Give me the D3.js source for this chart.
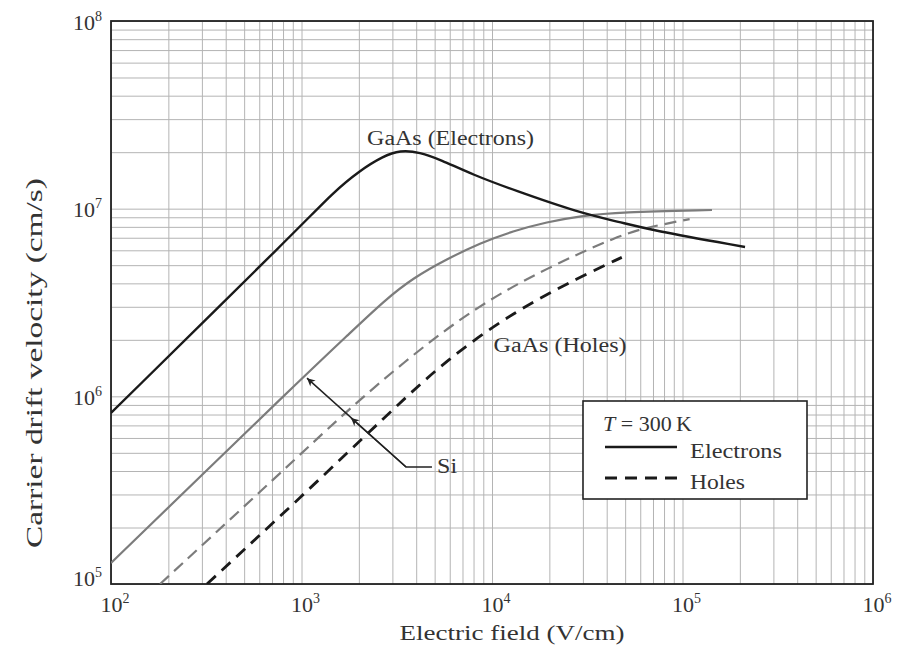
<!DOCTYPE html>
<html><head><meta charset="utf-8">
<script src="https://cdn.jsdelivr.net/npm/d3@7"></script>
<style>body{margin:0;background:#fff}svg{display:block}text{font-family:"Liberation Serif","Times New Roman",serif;fill:#333}</style>
</head><body><div id="chart"></div>
<script>
// ---- data ----
const xTickExps = [2, 3, 4, 5, 6];
const yTickExps = [5, 6, 7, 8];

const gaasElecField = [100, 982, 1464, 2028, 2678, 3289, 4188, 5333, 7949, 12890, 28960, 46970, 67500, 212900];
const gaasElecVel   = [8.15e5, 7.98e6, 1.22e7, 1.60e7, 1.90e7, 2.05e7, 2.0e7, 1.83e7, 1.515e7, 1.26e7, 9.48e6, 8.49e6, 7.70e6, 6.25e6];

const siElecField = [100, 982, 1798, 2744, 3849, 5805, 8650, 12890, 19440, 28960, 46970, 142800];
const siElecVel   = [1.294e5, 1.222e6, 2.175e6, 3.26e6, 4.27e6, 5.39e6, 6.56e6, 7.60e6, 8.49e6, 9.14e6, 9.60e6, 9.84e6];

const siHoleField = [181, 982, 1715, 3800, 8550, 19400, 47000, 66700, 109000];
const siHoleVel   = [1e5, 4.87e5, 8.3e5, 1.66e6, 3.07e6, 4.83e6, 7.24e6, 7.98e6, 8.8e6];

const gaasHoleField = [319, 982, 2990, 5740, 12900, 29000, 48000];
const gaasHoleVel   = [1e5, 2.87e5, 8.45e5, 1.56e6, 2.81e6, 4.33e6, 5.5e6];

const siArrowField = [4840, 3540, 1069];
const siArrowVel   = [4.2e5, 4.2e5, 1.25e6];
const siMidArrowField = [3540, 1820];
const siMidArrowVel   = [4.2e5, 7.67e5];

const labels = [
  {text: "GaAs (Electrons)", E: 2210, V: 2.18e7, len: 167},
  {text: "GaAs (Holes)", E: 10200, V: 1.72e6, len: 133},
  {text: "Si", E: 5150, V: 3.9e5, len: 20}
];

// ---- layout ----
const W = 907, H = 654;
const L = 111, R = 873, T = 21, B = 584;

const svg = d3.select("#chart").append("svg").attr("width", W).attr("height", H);

const x = d3.scaleLog().domain([1e2, 1e6]).range([L, R]);
const y = d3.scaleLog().domain([1e5, 1e8]).range([B, T]);

// grid values
const gridX = [], gridY = [];
for (let e = 2; e < 6; e++) for (let m = 1; m < 10; m++) gridX.push(m * Math.pow(10, e));
gridX.push(1e6);
for (let e = 5; e < 8; e++) for (let m = 1; m < 10; m++) gridY.push(m * Math.pow(10, e));
gridY.push(1e8);

svg.append("g").attr("transform", `translate(0,${B})`)
  .call(d3.axisBottom(x).tickValues(gridX).tickSize(-(B - T)).tickFormat(""))
  .call(g => g.select(".domain").remove())
  .selectAll("line").attr("stroke", "#b4b4b4").attr("stroke-width", 1);

svg.append("g").attr("transform", `translate(${L},0)`)
  .call(d3.axisLeft(y).tickValues(gridY).tickSize(-(R - L)).tickFormat(""))
  .call(g => g.select(".domain").remove())
  .selectAll("line").attr("stroke", "#b4b4b4").attr("stroke-width", 1);

// tick labels
const gx = svg.append("g").attr("transform", `translate(0,${B})`)
  .call(d3.axisBottom(x).tickValues(xTickExps.map(e => Math.pow(10, e))).tickSize(0));
gx.select(".domain").remove();
gx.selectAll(".tick text").each(function(d, i) {
  const t = d3.select(this).text(null).attr("y", 28).attr("dy", null)
    .attr("text-anchor", "start").attr("x", -11).attr("font-size", 22);
  t.append("tspan").text("10");
  t.append("tspan").attr("dy", -9).attr("font-size", 14).text(xTickExps[i]);
});

const gy = svg.append("g").attr("transform", `translate(${L},0)`)
  .call(d3.axisLeft(y).tickValues(yTickExps.map(e => Math.pow(10, e))).tickSize(0));
gy.select(".domain").remove();
gy.selectAll(".tick text").each(function(d, i) {
  const t = d3.select(this).text(null).attr("x", -9).attr("dy", null)
    .attr("y", yTickExps[i] === 5 ? 1 : 8)
    .attr("text-anchor", "end").attr("font-size", 22);
  t.append("tspan").text("10");
  t.append("tspan").attr("dy", -9).attr("font-size", 14).text(yTickExps[i]);
});

// frame
svg.append("rect").attr("x", L).attr("y", T).attr("width", R - L).attr("height", B - T)
  .attr("fill", "none").attr("stroke", "#222").attr("stroke-width", 1.8);

// curves
const line = d3.line().x(d => x(d[0])).y(d => y(d[1])).curve(d3.curveBasis);
const zip = (a, b) => a.map((v, i) => [v, b[i]]);

svg.append("clipPath").attr("id", "clip").append("rect")
  .attr("x", L).attr("y", T).attr("width", R - L).attr("height", B - T);
const plot = svg.append("g").attr("clip-path", "url(#clip)");

plot.append("path").attr("d", line(zip(siHoleField, siHoleVel)))
  .attr("fill", "none").attr("stroke", "#7c7c7c").attr("stroke-width", 2.2).attr("stroke-dasharray", "12,7");
plot.append("path").attr("d", line(zip(gaasHoleField, gaasHoleVel)))
  .attr("fill", "none").attr("stroke", "#1a1a1a").attr("stroke-width", 2.8).attr("stroke-dasharray", "12,8");
plot.append("path").attr("d", line(zip(siElecField, siElecVel)))
  .attr("fill", "none").attr("stroke", "#7c7c7c").attr("stroke-width", 2.2);
plot.append("path").attr("d", line(zip(gaasElecField, gaasElecVel)))
  .attr("fill", "none").attr("stroke", "#1a1a1a").attr("stroke-width", 2.4);

// arrow marker
svg.append("defs").append("marker").attr("id", "arr")
  .attr("viewBox", "0 0 10 10").attr("refX", 10).attr("refY", 5)
  .attr("markerWidth", 11).attr("markerHeight", 8).attr("markerUnits", "userSpaceOnUse")
  .attr("orient", "auto")
  .append("path").attr("d", "M0,0 L10,5 L0,10 L3,5 Z").attr("fill", "#222");

const straight = d3.line().x(d => x(d[0])).y(d => y(d[1]));
svg.append("path").attr("d", straight(zip(siArrowField, siArrowVel)))
  .attr("fill", "none").attr("stroke", "#222").attr("stroke-width", 1.5).attr("marker-end", "url(#arr)");
svg.append("path").attr("d", straight(zip(siMidArrowField, siMidArrowVel)))
  .attr("fill", "none").attr("stroke", "#222").attr("stroke-width", 1.5).attr("marker-end", "url(#arr)");

// curve labels
labels.forEach(l => {
  svg.append("text").attr("x", x(l.E)).attr("y", y(l.V))
    .attr("font-size", 20).attr("textLength", l.len).attr("lengthAdjust", "spacingAndGlyphs")
    .text(l.text);
});

// axis titles
svg.append("text").attr("x", 512).attr("y", 640).attr("text-anchor", "middle")
  .attr("font-size", 21).attr("textLength", 225).attr("lengthAdjust", "spacingAndGlyphs")
  .text("Electric field (V/cm)");
svg.append("text").attr("transform", "translate(42,363) rotate(-90)").attr("text-anchor", "middle")
  .attr("font-size", 23).attr("textLength", 370).attr("lengthAdjust", "spacingAndGlyphs")
  .text("Carrier drift velocity (cm/s)");

// legend
const lg = svg.append("g").attr("transform", "translate(583,401)");
lg.append("rect").attr("width", 224).attr("height", 98).attr("fill", "#fff")
  .attr("stroke", "#222").attr("stroke-width", 1.6);
const tl = lg.append("text").attr("x", 20).attr("y", 30).attr("font-size", 22);
tl.append("tspan").attr("font-style", "italic").text("T");
tl.append("tspan").text(" = 300\u2009K");
lg.append("line").attr("x1", 22).attr("x2", 94).attr("y1", 46).attr("y2", 46)
  .attr("stroke", "#1a1a1a").attr("stroke-width", 2.6);
lg.append("text").attr("x", 107).attr("y", 57).attr("font-size", 22)
  .attr("textLength", 92).attr("lengthAdjust", "spacingAndGlyphs").text("Electrons");
lg.append("line").attr("x1", 22).attr("x2", 94).attr("y1", 77).attr("y2", 77)
  .attr("stroke", "#1a1a1a").attr("stroke-width", 2.8).attr("stroke-dasharray", "12,8");
lg.append("text").attr("x", 107).attr("y", 88).attr("font-size", 22)
  .attr("textLength", 55).attr("lengthAdjust", "spacingAndGlyphs").text("Holes");
</script></body></html>
